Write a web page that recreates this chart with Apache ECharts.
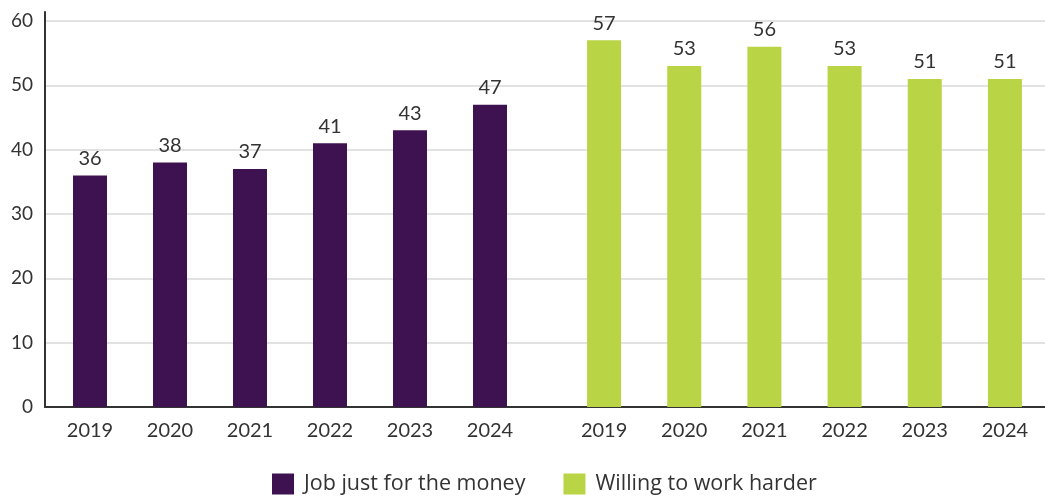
<!DOCTYPE html>
<html>
<head>
<meta charset="utf-8">
<script src="https://cdn.jsdelivr.net/npm/echarts@6/dist/echarts.min.js"></script>
<style>
html,body{margin:0;padding:0;background:#fff;}
#chart{width:1045px;height:496px;}
</style>
</head>
<body>
<div id="chart"></div>
<script>
const years = ['2019', '2020', '2021', '2022', '2023', '2024'];
const seriesNames = ['Job just for the money', 'Willing to work harder'];
const jobForMoney = [36, 38, 37, 41, 43, 47];
const willingHarder = [57, 53, 56, 53, 51, 51];
const yTicks = { min: 0, max: 60, interval: 10 };

const FONT = 'Lato, "Open Sans", sans-serif';
const TXT = '#333333';
const PURPLE = '#3e1151';
const GREEN = '#b9d444';

const chart = echarts.init(document.getElementById('chart'));
const hiddenY = (gi) => ({ type: 'value', gridIndex: gi, min: yTicks.min, max: yTicks.max, show: false });
const catX = (gi) => ({
  type: 'category', gridIndex: gi, data: years,
  axisLine: { show: false }, axisTick: { show: false },
  axisLabel: { color: TXT, fontFamily: FONT, fontSize: 20, margin: 14 }
});
const barSeries = (name, data, idx, color) => ({
  name: name, type: 'bar', data: data,
  xAxisIndex: idx, yAxisIndex: idx,
  barWidth: 34,
  itemStyle: { color: color },
  label: { show: true, position: 'top', distance: 7, color: TXT, fontFamily: FONT, fontSize: 20 }
});

chart.setOption({
  animation: false,
  backgroundColor: '#ffffff',
  grid: [
    { left: 45, right: 0, top: 21, bottom: 89 },
    { left: 50, width: 480, top: 21, bottom: 89 },
    { left: 564, right: 0, top: 21, bottom: 89 },
    { left: 45, right: 0, top: 12, bottom: 89 }
  ],
  legend: {
    left: 267, top: 468,
    data: seriesNames,
    icon: 'rect', itemWidth: 22, itemHeight: 21, itemGap: 38,
    textStyle: { color: TXT, fontFamily: '"Open Sans", Lato, sans-serif', fontSize: 21.5, padding: [0, 0, 0, 5] }
  },
  xAxis: [
    { type: 'category', gridIndex: 0, data: [''],
      axisLine: { show: true, lineStyle: { color: '#333333', width: 2 } },
      axisTick: { show: false }, axisLabel: { show: false } },
    catX(1),
    catX(2),
    { type: 'category', gridIndex: 3, data: [''], show: false }
  ],
  yAxis: [
    { type: 'value', gridIndex: 0, min: yTicks.min, max: yTicks.max, interval: yTicks.interval,
      axisLine: { show: false }, axisTick: { show: false },
      axisLabel: { color: TXT, fontFamily: FONT, fontSize: 19, margin: 12 },
      splitLine: { show: true, lineStyle: { color: '#d9d9d9', width: 1.5 } } },
    hiddenY(1),
    hiddenY(2),
    { type: 'value', gridIndex: 3, min: 0, max: 1,
      axisLine: { show: true, lineStyle: { color: '#333333', width: 2 } },
      axisTick: { show: false }, axisLabel: { show: false }, splitLine: { show: false } }
  ],
  series: [
    barSeries(seriesNames[0], jobForMoney, 1, PURPLE),
    barSeries(seriesNames[1], willingHarder, 2, GREEN)
  ]
});
</script>
</body>
</html>
